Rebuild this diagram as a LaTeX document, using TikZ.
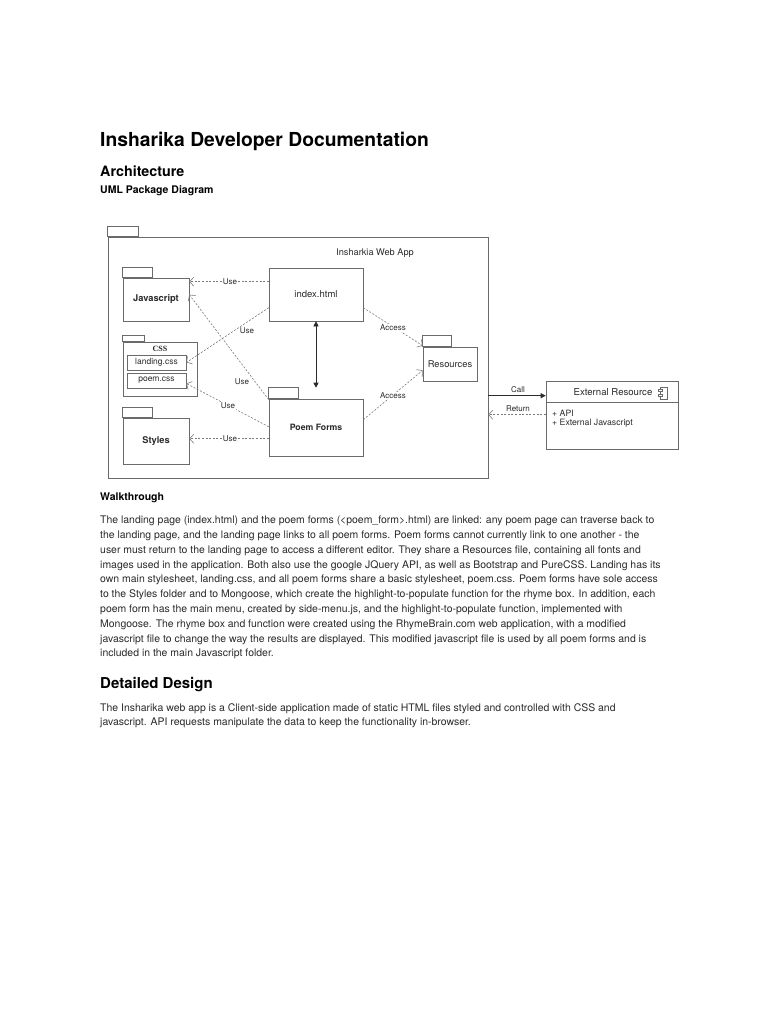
\documentclass[tikz,border=0pt]{standalone}
\usepackage{fontspec}
\setmainfont{TeX Gyre Heros}
\newfontfamily\cssfont{Liberation Serif}
\usetikzlibrary{arrows.meta,calc}
\definecolor{ln}{HTML}{6A6A6A}
\definecolor{dl}{HTML}{7A7A7A}
\definecolor{txt}{HTML}{2A2A2A}
\newcommand{\fs}[1]{\fontsize{#1}{#1}\selectfont}
\begin{document}
\begin{tikzpicture}[x=1pt,y=-1pt,
  pkg/.style={draw=ln, line width=0.6pt, inner sep=0pt, text=txt, font=\fs{9.5}},
  bpkg/.style={pkg, font=\fs{9}\bfseries},
  inbox/.style={draw=ln, line width=0.6pt, inner sep=0pt, text=txt, font=\fs{8.5}, minimum width=59pt, minimum height=15pt},
  dep/.style={draw=dl, line width=0.6pt, dash pattern=on 2pt off 1.6pt, -{Straight Barb[length=4pt,width=9pt]}},
  solidarr/.style={draw=txt, line width=0.6pt, -{Triangle[length=5pt,width=5pt]}},
  lbl/.style={fill=white, inner sep=0.8pt, text=txt, font=\fs{8}},
  head/.style={anchor=west, inner sep=0pt, text=black, font=\bfseries},
  para/.style={anchor=west, inner sep=0pt, text=txt, font=\fs{10.45}},
  tab/.style={draw=ln, line width=0.6pt}
]
\useasboundingbox[fill=white] (0,0) rectangle (768,1024);

% Headings
\node[head, font=\fs{19.3}\bfseries] (title) at (100,141) {Insharika Developer Documentation};
\node[head, font=\fs{14.3}\bfseries] (arch) at (100,171) {Architecture};
\node[head, font=\fs{10.5}\bfseries] (uml) at (100,191) {UML Package Diagram};

% Outer package
\node[pkg, minimum width=380pt, minimum height=241pt] (app) at (298,357.5) {};
\draw[tab] (app.north west) rectangle ++(31,-10);
\node[pkg, draw=none, font=\fs{9.2}] (appname) at (375,253) {Insharkia Web App};

% Javascript
\node[bpkg, font=\fs{9.3}\bfseries, minimum width=66pt, minimum height=43pt] (js) at (156,299.5) {Javascript};
\draw[tab] (js.north west) rectangle ++(30,-10);

% CSS
\node[pkg, minimum width=74pt, minimum height=54pt] (css) at (160,369) {};
\draw[tab] (css.north west) rectangle ++(22,-6);
\node[inner sep=0pt, text=txt, font=\fs{8}\cssfont\bfseries] (csslbl) at (160,348.5) {CSS};
\node[inbox] (landing) at (156.5,362.5) {landing.css};
\node[inbox] (poemcss) at (156.5,380.5) {poem.css};

% Styles
\node[bpkg, font=\fs{9.3}\bfseries, minimum width=66pt, minimum height=46pt] (sty) at (156,441) {Styles};
\draw[tab] (sty.north west) rectangle ++(30,-10);

% index.html
\node[pkg, minimum width=94pt, minimum height=53pt] (idx) at (316,294.5) {index.html};

% Poem Forms
\node[bpkg, font=\fs{8.7}\bfseries, minimum width=94pt, minimum height=57pt] (pf) at (316,427.5) {Poem Forms};
\draw[tab] (pf.north west) rectangle ++(30,-11);

% Resources
\node[pkg, font=\fs{9.3}, minimum width=54pt, minimum height=34pt] (res) at (450,364) {Resources};
\draw[tab] (res.north west) rectangle ++(29,-11);

% External Resource
\node[pkg, minimum width=132pt, minimum height=68pt] (ext) at (612,415) {};
\draw[tab] ($(ext.north west)+(0,22)$) -- ($(ext.north east)+(0,22)$);
\node[inner sep=0pt, text=txt, font=\fs{9.6}] (exttitle) at (613,392) {External Resource};
\draw[tab, fill=white] (660,387) rectangle (667,399);
\draw[tab, fill=white] (658,389) rectangle (662,391.5);
\draw[tab, fill=white] (658,394) rectangle (662,396.5);
\node[anchor=west, inner sep=0pt, text=txt, font=\fs{8.7}] (api) at (552,413) {+ API};
\node[anchor=west, inner sep=0pt, text=txt, font=\fs{8.7}] (extjs) at (552,423) {+ External Javascript};

% Dependencies
\draw[dep] ($(idx.north west)+(0,14)$) -- ($(js.north east)+(0,4)$);
\node[lbl] (u1) at (230,282) {Use};
\draw[dep] ($(idx.north west)+(0,40)$) -- (landing.east);
\node[lbl, fill=none] (u2) at (247,331) {Use};
\draw[dep] ($(pf.north west)+(0,1)$) -- ($(js.north east)+(0,17)$);
\node[lbl, fill=none] (u3) at (242,382) {Use};
\draw[dep] ($(pf.north west)+(0,28)$) -- ($(poemcss.east)+(0,3)$);
\node[lbl] (u4) at (228,406) {Use};
\draw[dep] ($(pf.north west)+(0,40)$) -- ($(sty.north east)+(0,21)$);
\node[lbl] (u5) at (230,439) {Use};

\draw[line width=0.6pt, draw=txt, {Triangle[length=5pt,width=5pt]}-{Triangle[length=5pt,width=5pt]}] (idx.south) -- ($(pf.north)+(0,-11)$);

\draw[dep] ($(idx.north east)+(0,40)$) -- ($(res.north west)+(0,-1)$);
\node[lbl] (a1) at (393,328) {Access};
\draw[dep] ($(pf.north east)+(0,21)$) -- ($(res.south west)+(0,-11)$);
\node[lbl] (a2) at (393,396) {Access};

% Call / Return
\coordinate (callE) at ($(ext.north west)+(0,15)$);
\coordinate (retE) at ($(ext.north west)+(0,34)$);
\draw[solidarr] (app.east |- callE) -- (callE);
\node[lbl, fill=none] (call) at (518,390) {Call};
\draw[dep] (retE) -- (app.east |- retE);
\node[lbl, fill=none] (ret) at (518,408.5) {Return};

% Walkthrough
\node[head, font=\fs{10.5}\bfseries] (walk) at (100,498) {Walkthrough};
\node[para] (p1) at (100,521) {The landing page (index.html) and the poem forms (<poem\_form>.html) are linked: any poem page can traverse back to};
\node[para] (p2) at (100,536) {the landing page, and the landing page links to all poem forms. Poem forms cannot currently link to one another - the};
\node[para] (p3) at (100,551) {user must return to the landing page to access a different editor. They share a Resources file, containing all fonts and};
\node[para] (p4) at (100,565.5) {images used in the application. Both also use the google JQuery API, as well as Bootstrap and PureCSS. Landing has its};
\node[para] (p5) at (100,580) {own main stylesheet, landing.css, and all poem forms share a basic stylesheet, poem.css. Poem forms have sole access};
\node[para] (p6) at (100,595) {to the Styles folder and to Mongoose, which create the highlight-to-populate function for the rhyme box. In addition, each};
\node[para] (p7) at (100,609.5) {poem form has the main menu, created by side-menu.js, and the highlight-to-populate function, implemented with};
\node[para] (p8) at (100,624.5) {Mongoose. The rhyme box and function were created using the RhymeBrain.com web application, with a modified};
\node[para] (p9) at (100,639.5) {javascript file to change the way the results are displayed. This modified javascript file is used by all poem forms and is};
\node[para] (p10) at (100,654) {included in the main Javascript folder.};

% Detailed Design
\node[head, font=\fs{15}\bfseries] (dd) at (100,685) {Detailed Design};
\node[para] (d1) at (100,708.5) {The Insharika web app is a Client-side application made of static HTML files styled and controlled with CSS and};
\node[para] (d2) at (100,723) {javascript. API requests manipulate the data to keep the functionality in-browser.};
\end{tikzpicture}
\end{document}
